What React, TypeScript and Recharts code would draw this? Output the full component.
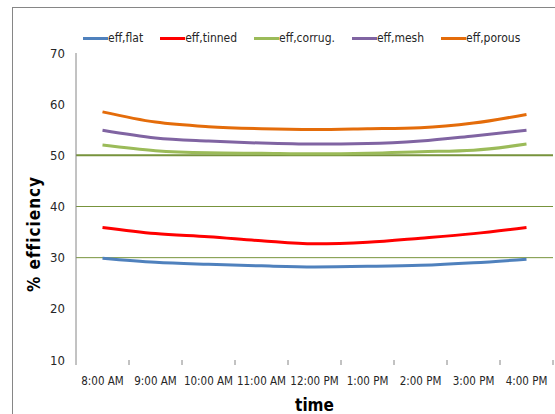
import React from "react";
import { LineChart, Line, XAxis, YAxis, ReferenceLine } from "recharts";

const hours = [
  "8:00 AM",
  "9:00 AM",
  "10:00 AM",
  "11:00 AM",
  "12:00 PM",
  "1:00 PM",
  "2:00 PM",
  "3:00 PM",
  "4:00 PM",
];

const effFlat = [29.9, 29.1, 28.7, 28.4, 28.2, 28.3, 28.5, 29.0, 29.7];
const effTinned = [35.9, 34.7, 34.1, 33.3, 32.7, 33.0, 33.8, 34.7, 35.9];
const effCorrug = [52.0, 50.9, 50.5, 50.4, 50.3, 50.4, 50.7, 51.0, 52.2];
const effMesh = [54.9, 53.4, 52.8, 52.4, 52.2, 52.3, 52.8, 53.8, 54.9];
const effPorous = [58.5, 56.5, 55.6, 55.2, 55.05, 55.2, 55.4, 56.3, 58.0];

const yTicks = [10, 20, 30, 40, 50, 60, 70];
const markerLines = [30, 40, 50];

const series = [
  { key: "flat", name: "eff,flat", color: "#4F81BD", values: effFlat },
  { key: "tinned", name: "eff,tinned", color: "#FF0000", values: effTinned },
  { key: "corrug", name: "eff,corrug.", color: "#9BBB59", values: effCorrug },
  { key: "mesh", name: "eff,mesh", color: "#8064A2", values: effMesh },
  { key: "porous", name: "eff,porous", color: "#E46C0A", values: effPorous },
];

const data = hours.map((h, i) => {
  const row: Record<string, number | string> = { idx: i, hour: h };
  series.forEach((s) => (row[s.key] = s.values[i]));
  return row;
});

// ticks at category centres (labels) and at boundaries (small marks)
const xTicks: number[] = [];
for (let i = 0; i <= hours.length; i++) {
  xTicks.push(i - 0.5);
  if (i < hours.length) xTicks.push(i);
}

const FONT = "'DejaVu Sans', sans-serif";
const narrow = { fontStretch: "condensed" as const };

function TimeTick(props: any) {
  const { x, y, payload } = props;
  const v = payload.value as number;
  if (!Number.isInteger(v)) {
    return <line x1={x} x2={x} y1={y} y2={y + 5} stroke="#868686" />;
  }
  return (
    <text
      x={x}
      y={y + 25}
      textAnchor="middle"
      fontSize={11.5}
      fontFamily={FONT}
      style={narrow}
      fill="#262626"
    >
      {hours[v]}
    </text>
  );
}

function LegendRow() {
  return (
    <div
      style={{
        position: "absolute",
        left: 83,
        top: 31,
        display: "flex",
        gap: 17,
        fontFamily: FONT,
        fontStretch: "condensed",
        fontSize: 12,
        color: "#262626",
        whiteSpace: "nowrap",
      }}
    >
      {series.map((s) => (
        <div key={s.key} style={{ display: "flex", alignItems: "center" }}>
          <span
            style={{
              display: "inline-block",
              width: 25,
              height: 3,
              background: s.color,
            }}
          />
          <span>{s.name}</span>
        </div>
      ))}
    </div>
  );
}

export default function App() {
  return (
    <div
      style={{
        position: "absolute",
        left: 0,
        top: 0,
        width: 555,
        height: 414,
        overflow: "hidden",
        background: "#fff",
      }}
    >
      <div
        style={{
          position: "absolute",
          left: 12,
          top: 7,
          width: 700,
          height: 600,
          border: "1px solid #868686",
        }}
      />
      <LineChart
        width={555}
        height={414}
        data={data}
        margin={{ top: 53, right: 2, bottom: 0, left: 16 }}
        style={{ position: "absolute", left: 0, top: 0 }}
      >
        <XAxis
          dataKey="idx"
          type="number"
          domain={[-0.5, 8.5]}
          ticks={xTicks}
          interval={0}
          axisLine={false}
          tickLine={false}
          tickSize={0}
          tickMargin={0}
          tick={<TimeTick />}
          height={54}
          label={{
            value: "time",
            position: "insideBottom",
            offset: 3,
            fontSize: 17,
            fontWeight: 700,
            fontFamily: FONT,
            style: narrow,
            fill: "#000",
          }}
        />
        <YAxis
          domain={[10, 70]}
          ticks={yTicks}
          width={60}
          tickLine={false}
          tickMargin={5}
          axisLine={{ stroke: "#868686" }}
          tick={{ fontSize: 13, fontFamily: FONT, fill: "#262626", style: narrow }}
          label={{
            content: () => (
              <text
                x={40}
                y={234}
                transform="rotate(-90, 40, 234)"
                textAnchor="middle"
                fontSize={17}
                fontWeight={700}
                fontFamily={FONT}
                style={narrow}
                fill="#000"
                letterSpacing={1}
              >
                %  efficiency
              </text>
            ),
          }}
        />
        {markerLines.map((v) => (
          <ReferenceLine
            key={v}
            y={v}
            stroke="#77933C"
            strokeWidth={v === 50 ? 2 : 1}
          />
        ))}
        {series.map((s) => (
          <Line
            key={s.key}
            type="monotone"
            dataKey={s.key}
            name={s.name}
            stroke={s.color}
            strokeWidth={3}
            dot={false}
            isAnimationActive={false}
          />
        ))}
      </LineChart>
      <LegendRow />
    </div>
  );
}
